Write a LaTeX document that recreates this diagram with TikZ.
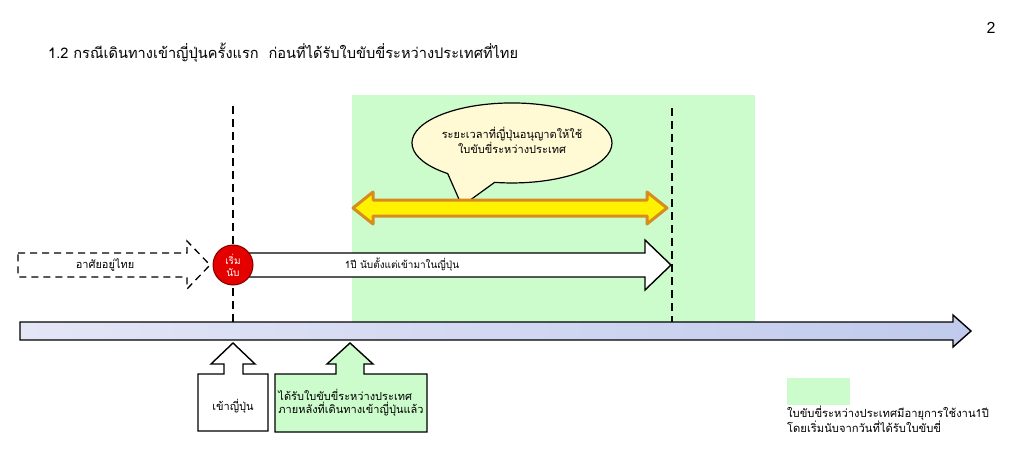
\documentclass[tikz,border=0pt]{standalone}
\usepackage{fontspec}
\setmainfont{Liberation Sans}
\newfontfamily\thaifont[Script=Thai]{Loma}
\usetikzlibrary{positioning}
\definecolor{lightgreen}{RGB}{204,252,204}
\definecolor{bubblefill}{RGB}{255,250,212}
\definecolor{arrowgold}{RGB}{214,140,30}
\definecolor{axisleft}{RGB}{228,230,246}
\definecolor{axisright}{RGB}{192,202,236}
\tikzstyle{txt}=[font=\thaifont\fontsize{11}{13}\selectfont,align=center,inner sep=0pt]
\tikzstyle{timeline}=[draw,dash pattern=on 8pt off 5pt,line width=2pt]
\tikzstyle{outline}=[draw,line width=1.4pt,line join=miter]

\begin{document}
\begin{tikzpicture}[x=1pt, y=-1pt]
  \useasboundingbox (0,0) rectangle (1020,460);

  % period of validity
  \fill[lightgreen] (352,95) rectangle (755,323);

  \node[font=\fontsize{16}{18}\selectfont] (page) at (991,28) {2};
  \node[txt, font=\thaifont\fontsize{14.6}{16}\selectfont, anchor=west] (title) at (48,53)
    {1.2 กรณีเดินทางเข้าญี่ปุ่นครั้งแรก\ \ ก่อนที่ได้รับใบขับขี่ระหว่างประเทศที่ไทย};

  \draw[timeline] (233,106) -- (233,322);
  \draw[timeline] (672,108) -- (672,322);

  % speech bubble
  \path[outline, fill=bubblefill, line width=1.2pt] (447.7,173.6)
    arc[start angle=130, end angle=460, x radius=100, y radius=40]
    -- (462,206) -- cycle;
  \node[txt] (allowed) at (512,140)
    {ระยะเวลาที่ญี่ปุ่นอนุญาตให้ใช้\\ใบขับขี่ระหว่างประเทศ};

  % yellow double arrow
  \path[draw=arrowgold, fill=yellow, line width=3pt, line join=round]
    (353,208) -- (373,192) -- (373,200) -- (647,200) -- (647,192) -- (667,208)
    -- (647,224) -- (647,216) -- (373,216) -- (373,224) -- cycle;

  % stay in Thailand
  \path[draw, dashed, dash pattern=on 7pt off 5pt, line width=1.3pt, fill=white]
    (18,253) -- (187,253) -- (187,241) -- (210,265) -- (187,289) -- (187,277)
    -- (18,277) -- cycle;
  \node[txt] (thai) at (105,265) {อาศัยอยู่ไทย};

  % one year arrow
  \path[outline, fill=white]
    (240,253) -- (645,253) -- (645,240) -- (671,265) -- (645,290) -- (645,277)
    -- (240,277) -- cycle;
  \node[txt, font=\thaifont\fontsize{10}{11}\selectfont] (year) at (402,265)
    {1ปี นับตั้งแต่เข้ามาในญี่ปุ่น};

  \node[draw=red!50!black, line width=1pt, fill=red!90!black, circle,
    minimum size=40pt, inner sep=0pt] (start) at (233,265) {};
  \node[txt, text=white, font=\thaifont\fontsize{10}{12}\selectfont] (startlbl)
    at (start) {เริ่ม\\นับ};

  % time axis
  \path[outline, left color=axisleft, right color=axisright]
    (20,322) -- (953,322) -- (953,315) -- (971,331) -- (953,347) -- (953,340)
    -- (20,340) -- cycle;

  % entering Japan
  \path[outline, fill=white]
    (233,343) -- (255,364) -- (243,364) -- (243,374) -- (268,374) -- (268,431)
    -- (198,431) -- (198,374) -- (224,374) -- (224,364) -- (211,364) -- cycle;
  \node[txt] (enter) at (233,406) {เข้าญี่ปุ่น};

  % licence received in Japan
  \path[outline, fill=lightgreen]
    (350,343) -- (373,364) -- (364,364) -- (364,374) -- (427,374) -- (427,432)
    -- (275,432) -- (275,374) -- (336,374) -- (336,364) -- (327,364) -- cycle;
  \node[txt, align=left] (received) at (351,403)
    {ได้รับใบขับขี่ระหว่างประเทศ\\ภายหลังที่เดินทางเข้าญี่ปุ่นแล้ว};

  % legend
  \fill[lightgreen] (787,378) rectangle (850,405);
  \node[txt, align=left, anchor=north west,
    font=\thaifont\fontsize{11.2}{15}\selectfont] (legend) at (787,406)
    {ใบขับขี่ระหว่างประเทศมีอายุการใช้งาน1ปี\\โดยเริ่มนับจากวันที่ได้รับใบขับขี่};
\end{tikzpicture}
\end{document}
